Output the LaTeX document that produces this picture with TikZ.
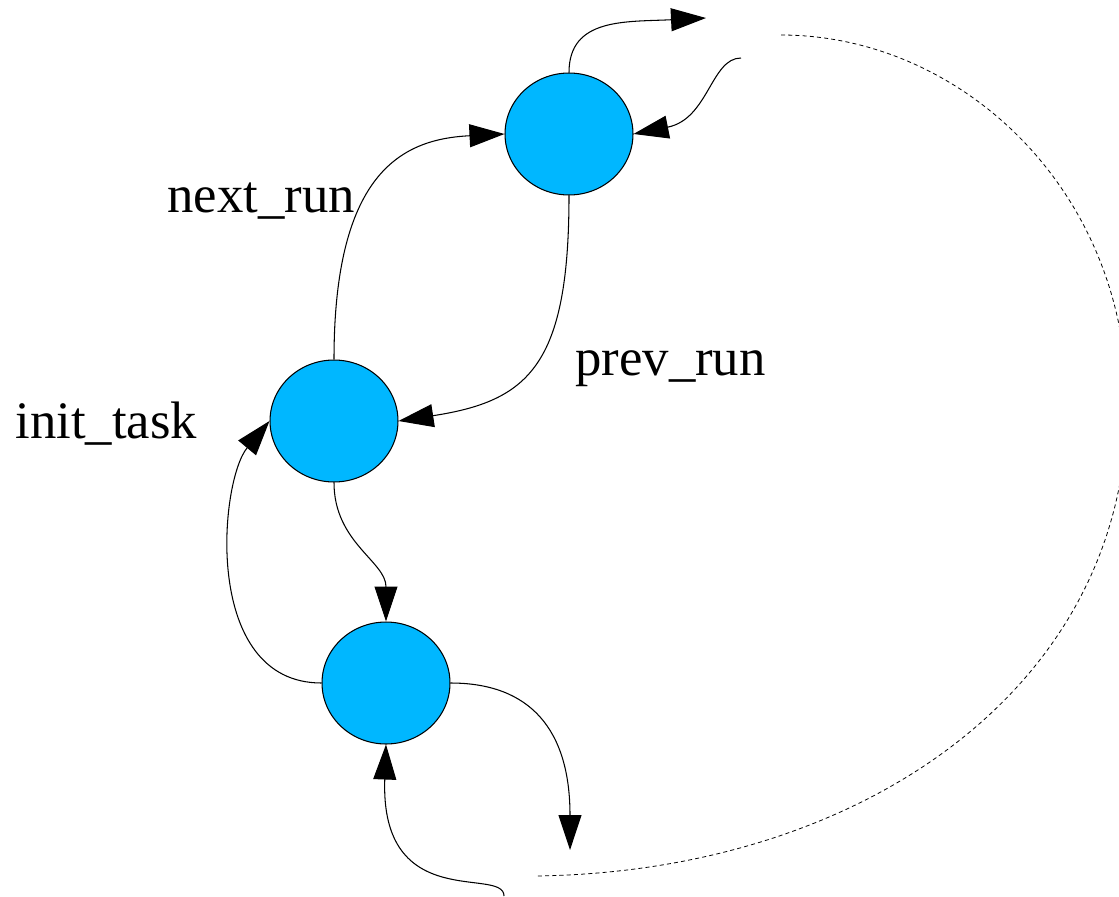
\documentclass[tikz,border=0pt]{standalone}
\usepackage{fontspec}
\setmainfont{Liberation Serif}
\usetikzlibrary{arrows.meta}
\usetikzlibrary{shapes.geometric}
\definecolor{procblue}{RGB}{0,183,255}

\begin{document}
\begin{tikzpicture}[
    x=0.02cm, y=-0.02cm,
    proc/.style={ellipse, draw, fill=procblue, line width=0.6pt,
        minimum width=2.56cm, minimum height=2.44cm},
    lbl/.style={anchor=base west, inner sep=0pt, font=\fontsize{30}{36}\selectfont},
    link/.style={line width=0.6pt, -{Triangle[length=0.7cm, width=0.46cm]}},
    loopback/.style={line width=0.45pt, dash pattern=on 2.3pt off 1.8pt},
]
\path[use as bounding box, clip] (0,0) rectangle (1119,896);

% tasks
\node[proc] (top) at (569,134) {};
\node[proc] (mid) at (334,421) {};
\node[proc] (bot) at (386,683) {};

% loose ends
\coordinate (out-top) at (706,18);
\coordinate (in-top) at (741,58);
\coordinate (out-bot) at (570,850);
\coordinate (in-bot) at (504,896);
\coordinate (loop-a) at (781,35);
\coordinate (loop-far) at (1127,405);
\coordinate (loop-b) at (535,876);

\node[lbl] (next-lbl) at (167,212) {next\_run};
\node[lbl] (prev-lbl) at (575,375) {prev\_run};
\node[lbl] (init-lbl) at (15,438) {init\_task};

\draw[link] (top.north) .. controls +(0,-55) and +(-80,4) .. (out-top);
\draw[link] (in-top) .. controls +(-30,0) and +(75,-15) .. (top.east);
\draw[link] (mid.north) .. controls +(0,-190) and +(-100,5) .. (top.west);
\draw[link] (top.south) .. controls +(0,170) and +(130,-20) .. (mid.east);
\draw[link] (mid.south) .. controls +(0,60) and +(0,-60) .. (bot.north);
\draw[link] (bot.west) .. controls +(-120,0) and +(-50,60) .. (mid.west);
\draw[link] (bot.east) .. controls +(80,0) and +(0,-120) .. (out-bot);
\draw[link] (in-bot) .. controls +(0,-30) and +(-6,170) .. (bot.south);

\draw[loopback] (loop-a) .. controls +(180,0) and +(0,-215) .. (loop-far)
    .. controls +(0,280) and +(330,-4) .. (loop-b);
\end{tikzpicture}
\end{document}
